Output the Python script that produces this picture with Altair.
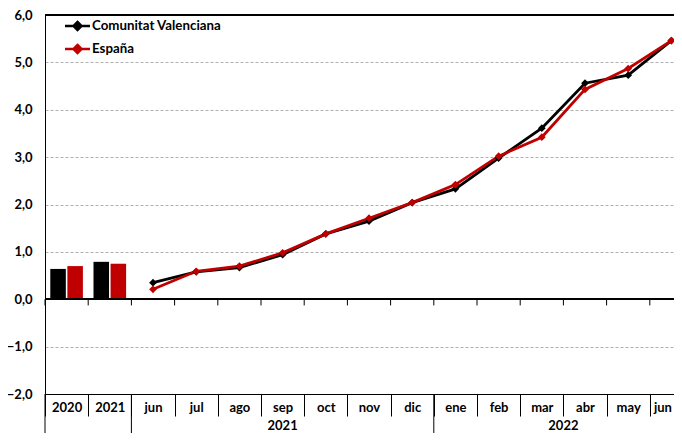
import altair as alt
import pandas as pd

keys = ["2020", "2021", "jun-21", "jul-21", "ago-21", "sep-21", "oct-21", "nov-21",
        "dic-21", "ene-22", "feb-22", "mar-22", "abr-22", "may-22", "jun-22"]
series = ["Comunitat Valenciana", "España"]
colors = ["#000000", "#C00000"]

bar_keys = ["2020", "2021"]
bar_cv = [0.64, 0.79]
bar_es = [0.70, 0.75]

line_keys = keys[2:]
line_cv = [0.35, 0.58, 0.67, 0.94, 1.38, 1.65, 2.04, 2.33, 2.98, 3.61, 4.56, 4.73, 5.46]
line_es = [0.21, 0.59, 0.70, 0.98, 1.38, 1.71, 2.04, 2.42, 3.02, 3.42, 4.43, 4.87, 5.46]

year_groups = ["2021", "2022"]

W, H = 629, 379          # visible plot area (right part of the last band is cropped)
XRANGE = 648             # full width of the 15 category bands
FONT = "Lato"

bars = pd.DataFrame({
    "key": bar_keys * 2,
    "series": [series[0]] * 2 + [series[1]] * 2,
    "value": bar_cv + bar_es,
})
lines = pd.DataFrame({
    "key": line_keys * 2,
    "series": [series[0]] * len(line_keys) + [series[1]] * len(line_keys),
    "value": line_cv + line_es,
})
allkeys = pd.DataFrame({"key": keys})

xscale = alt.Scale(domain=keys, range=[0, XRANGE], paddingInner=0, paddingOuter=0)
yscale = alt.Scale(domain=[-2, 6], nice=False, zero=False)
cscale = alt.Scale(domain=series, range=colors)

xaxis = alt.Axis(
    title=None, orient="bottom", tickBand="extent", tickSize=22, tickColor="black",
    domainColor="black", labelPadding=-15, labelFont=FONT, labelFontWeight="bold",
    labelFontSize=13, labelColor="black", labelAngle=0,
    labelAlign={"condition": {"test": f"datum.value == '{keys[-1]}'", "value": "right"},
                "value": "center"},
    labelExpr="split(datum.label, '-')[0]", grid=False,
)
yaxis = alt.Axis(
    title=None, values=[-2, -1, 0, 1, 2, 3, 4, 5, 6], ticks=False,
    labelExpr="replace(format(datum.value, '.1f'), '.', ',')",
    labelFont=FONT, labelFontWeight="bold", labelFontSize=13, labelColor="black",
    labelPadding=13, domainColor="black", gridColor="#b0b0b0", gridDash=[3, 2],
)

legend = alt.Legend(
    title=None, orient="none", legendX=18.5, legendY=-3,
    symbolType="M-1,0H1M0,-0.32L0.32,0L0,0.32L-0.32,0Z",
    symbolSize=625, symbolStrokeWidth=2.5, labelFont=FONT, labelFontWeight="bold",
    labelFontSize=13.3, labelColor="black", labelOffset=0.5, rowPadding=0, padding=0,
)

bar_layer = alt.Chart(bars).mark_bar().encode(
    x=alt.X("key:N", scale=xscale, sort=keys, axis=xaxis),
    xOffset=alt.XOffset("series:N", sort=series,
                        scale=alt.Scale(paddingInner=0.09, paddingOuter=0.31)),
    y=alt.Y("value:Q", scale=yscale, axis=yaxis),
    color=alt.Color("series:N", scale=cscale, legend=legend),
)

line_layer = alt.Chart(lines).mark_line(strokeWidth=2.8).encode(
    x=alt.X("key:N", scale=xscale, sort=keys),
    y=alt.Y("value:Q", scale=yscale),
    color=alt.Color("series:N", scale=cscale, legend=legend),
)
point_layer = alt.Chart(lines).mark_point(shape="diamond", filled=True, size=60, opacity=1).encode(
    x=alt.X("key:N", scale=xscale, sort=keys),
    y=alt.Y("value:Q", scale=yscale),
    color=alt.Color("series:N", scale=cscale, legend=legend),
)

top_rule = alt.Chart(allkeys).mark_rule(color="black", strokeWidth=1).encode(
    y=alt.datum(6, scale=yscale),
)
zero_rule = alt.Chart(allkeys).mark_rule(color="black", strokeWidth=1).encode(
    y=alt.datum(0, scale=yscale),
)
zero_ticks = alt.Chart(allkeys).mark_rule(color="black", strokeWidth=1).encode(
    x=alt.X("key:N", scale=xscale, sort=keys, bandPosition=0),
    y=alt.datum(0, scale=yscale),
    y2=alt.datum(-0.13),
)

sep_keys = pd.DataFrame({"key": ["2020", "jun-21", "ene-22"]})
long_seps = alt.Chart(sep_keys).mark_rule(color="black", strokeWidth=1).encode(
    x=alt.X("key:N", scale=xscale, sort=keys, bandPosition=0),
    y=alt.value(H),
    y2=alt.value(H + 39),
)

text_props = dict(font=FONT, fontWeight="bold", fontSize=13, color="black", baseline="middle")
year1 = alt.Chart(pd.DataFrame({"key": ["sep-21"], "label": [year_groups[0]]})).mark_text(**text_props).encode(
    x=alt.X("key:N", scale=xscale, sort=keys),
    y=alt.value(H + 32),
    text="label:N",
)
year2 = alt.Chart(pd.DataFrame({"key": ["abr-22"], "label": [year_groups[1]]})).mark_text(**text_props).encode(
    x=alt.X("key:N", scale=xscale, sort=keys, bandPosition=0),
    y=alt.value(H + 32),
    text="label:N",
)

chart = alt.layer(
    bar_layer, top_rule, zero_rule, zero_ticks, line_layer, point_layer, long_seps, year1, year2
).properties(
    width=W, height=H,
    autosize=alt.AutoSizeParams(type="none"),
    padding={"left": 37, "top": 7, "right": 0, "bottom": 39},
).configure_view(
    stroke=None,
).configure(background="white")

chart.save("out.html", embed_options={"renderer": "svg", "actions": False})
